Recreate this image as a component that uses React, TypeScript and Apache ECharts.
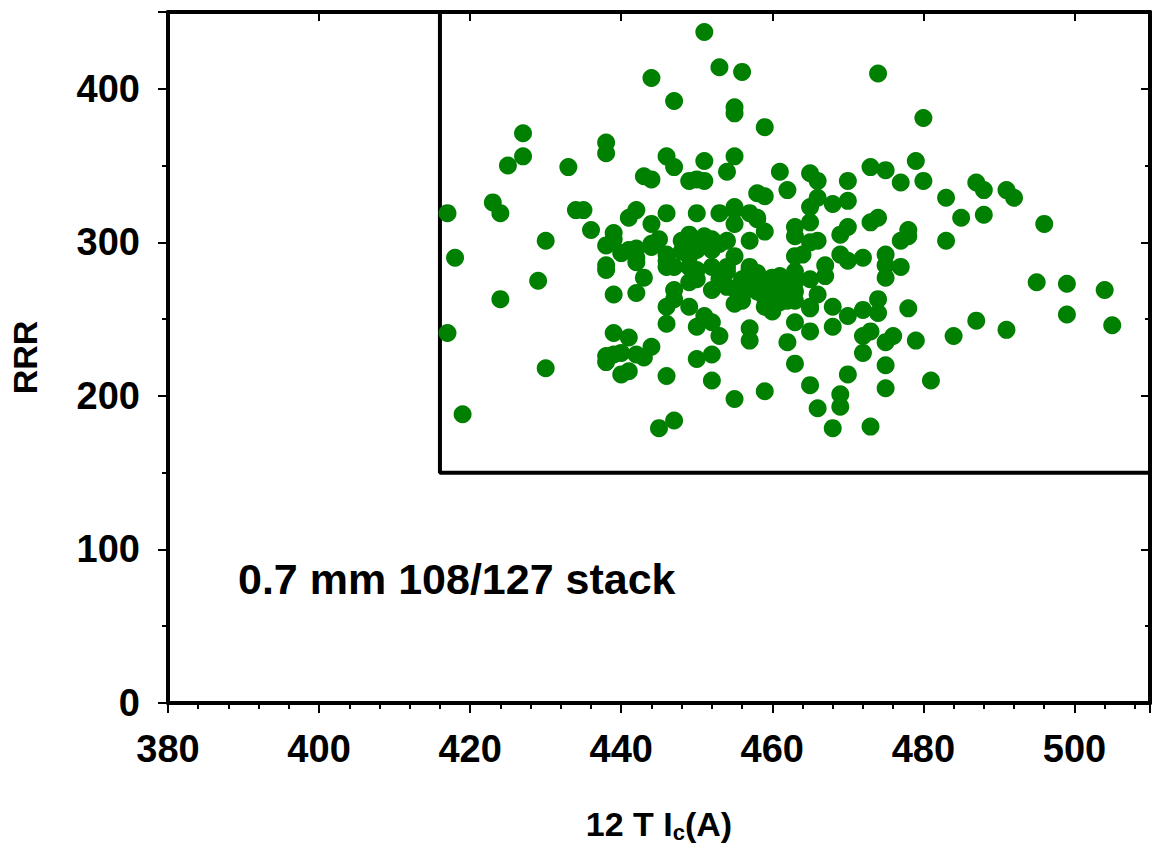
import React, { useEffect, useRef } from "react";
import * as echarts from "echarts";

// 12 T critical current Ic (A) of each sample
const icValues = [
  417, 418, 417, 419, 423, 424, 424, 425, 427, 427,
  430, 429, 430, 433, 434, 436, 438, 438, 439, 441,
  442, 444, 446, 450, 453, 455, 455, 457, 458, 459,
  463, 463, 438, 439, 440, 442, 442, 438, 443, 439,
  442, 444, 445, 446, 446, 448, 449, 450, 451, 452,
  453, 454, 455, 457, 449, 450, 452, 452, 453, 454,
  454, 457, 447, 446, 447, 449, 450, 451, 452, 446,
  439, 441, 453, 438, 438, 439, 440, 442, 443, 444,
  440, 441, 446, 450, 452, 452, 455, 459, 445, 447,
  458, 459, 460, 461, 459, 460, 461, 462, 463, 463,
  455, 456, 457, 457, 462, 463, 463, 463, 463, 451,
  453, 456, 444, 447, 455, 455, 459, 446, 447, 451,
  455, 443, 444, 449, 451, 454, 461, 458, 459, 462,
  474, 480, 473, 475, 479, 477, 480, 465, 466, 470,
  465, 466, 468, 470, 483, 487, 488, 491, 492, 485,
  488, 496, 465, 466, 469, 470, 473, 474, 477, 478,
  478, 483, 464, 467, 467, 469, 470, 472, 475, 475,
  475, 477, 465, 466, 461, 465, 468, 468, 470, 472,
  474, 474, 478, 465, 472, 473, 472, 475, 476, 479,
  484, 487, 491, 495, 499, 499, 504, 505, 465, 470,
  469, 469, 466, 475, 475, 481, 468, 473, 451, 452,
  454, 450, 457, 458, 449, 449, 446, 447, 438, 448,
  444, 441, 442, 435, 449, 455, 465, 465, 458, 450,
  456, 458, 460, 462, 461, 457, 459, 463, 460, 455,
];

// RRR of each sample (same order)
const rrrValues = [
  319, 290, 241, 188, 326, 319, 263, 350, 356, 371,
  301, 275, 218, 349, 321, 308, 365, 358, 306, 316,
  321, 312, 319, 319, 319, 321, 312, 319, 315, 307,
  310, 304, 298, 302, 293, 296, 287, 285, 277, 266,
  267, 299, 302, 292, 288, 301, 305, 295, 299, 302,
  299, 301, 291, 301, 284, 276, 284, 269, 276, 281,
  271, 282, 269, 258, 263, 258, 245, 252, 248, 247,
  241, 238, 239, 226, 222, 227, 228, 227, 225, 232,
  214, 216, 213, 224, 227, 210, 198, 203, 179, 184,
  274, 271, 267, 265, 258, 255, 261, 262, 268, 274,
  260, 262, 244, 236, 235, 221, 291, 281, 248, 437,
  414, 411, 407, 392, 388, 384, 375, 356, 349, 353,
  356, 343, 341, 340, 340, 346, 346, 332, 330, 334,
  410, 381, 349, 347, 353, 339, 340, 345, 340, 340,
  323, 329, 325, 327, 329, 339, 334, 334, 329, 316,
  318, 312, 313, 301, 305, 310, 313, 316, 301, 308,
  304, 301, 292, 285, 278, 292, 288, 290, 292, 285,
  277, 284, 276, 266, 269, 257, 258, 245, 252, 256,
  263, 254, 257, 242, 239, 242, 228, 235, 239, 236,
  239, 249, 243, 274, 273, 253, 269, 246, 207, 214,
  201, 193, 192, 220, 205, 210, 179, 180, 304, 295,
  284, 282, 284, 280, 291, 274, 284, 284, 282, 294,
  297, 295, 290, 321, 301, 323, 300, 258, 316, 341,
  276, 268, 272, 270, 278, 270, 264, 262, 277, 270,
];

// Specification box corner (Ic >= 416 A, RRR >= 150)
const boxIc = [416, 416, 510];
const boxRrr = [450, 150, 150];

const xTickLabels = [380, 400, 420, 440, 460, 480, 500];
const yTickLabels = [0, 100, 200, 300, 400];

const X_MIN = 380;
const X_MAX = 510;
const Y_MIN = 0;
const Y_MAX = 450;

const stackLabel = "0.7 mm 108/127 stack";

const mainFont = "'Liberation Sans', Arial, Helvetica, sans-serif";

export default function App() {
  const ref = useRef<HTMLDivElement>(null);

  useEffect(() => {
    if (!ref.current) return;
    const chart = echarts.init(ref.current, null, { renderer: "svg" });

    const points = icValues.map((v, i) => [v, rrrValues[i]]);
    const box = boxIc.map((v, i) => [v, boxRrr[i]]);

    const lineStyle = { color: "#000", width: 4 };
    const hidden = { show: false };

    const xBase = { type: "value", min: X_MIN, max: X_MAX, gridIndex: 0, splitLine: hidden };
    const yBase = { type: "value", min: Y_MIN, max: Y_MAX, gridIndex: 0, splitLine: hidden };

    const option: any = {
      animation: false,
      backgroundColor: "#fff",
      grid: { left: 167, right: 3, top: 12, bottom: 147, containLabel: false },
      xAxis: [
        {
          ...xBase,
          position: "bottom",
          interval: 20,
          axisLine: { show: true, onZero: false, lineStyle },
          axisTick: { show: true, inside: false, length: 10, lineStyle: { color: "#000", width: 2 } },
          axisLabel: {
            show: true,
            margin: 27,
            color: "#000",
            fontFamily: mainFont,
            fontWeight: "bold",
            fontSize: 38,
            formatter: (v: number) => (xTickLabels.includes(v) ? String(v) : ""),
          },
          name: "{a|12 T I}{s|c}{a|(A)}",
          nameLocation: "middle",
          nameGap: 102,
          nameTextStyle: {
            rich: {
              a: { fontFamily: mainFont, fontWeight: "bold", fontSize: 34, color: "#000" },
              s: { fontFamily: mainFont, fontWeight: "bold", fontSize: 22, color: "#000", padding: [16, 0, 0, 0] },
            },
          },
        },
        {
          ...xBase,
          position: "bottom",
          interval: 4,
          axisLine: hidden,
          axisTick: { show: true, inside: false, length: 6, lineStyle: { color: "#000", width: 2 } },
          axisLabel: hidden,
        },
        {
          ...xBase,
          position: "top",
          interval: 20,
          axisLine: { show: true, onZero: false, lineStyle },
          axisTick: { show: true, inside: true, length: 9, lineStyle: { color: "#000", width: 2 } },
          axisLabel: hidden,
        },
        {
          ...xBase,
          position: "top",
          interval: 4,
          axisLine: hidden,
          axisTick: { show: true, inside: true, length: 5, lineStyle: { color: "#000", width: 2 } },
          axisLabel: hidden,
        },
      ],
      yAxis: [
        {
          ...yBase,
          position: "left",
          interval: 100,
          axisLine: { show: true, onZero: false, lineStyle },
          axisTick: { show: true, inside: false, length: 10, lineStyle: { color: "#000", width: 2 } },
          axisLabel: {
            show: true,
            margin: 28,
            color: "#000",
            fontFamily: mainFont,
            fontWeight: "bold",
            fontSize: 38,
            formatter: (v: number) => (yTickLabels.includes(v) ? String(v) : ""),
          },
          name: "RRR",
          nameLocation: "middle",
          nameGap: 126,
          nameRotate: 90,
          nameTextStyle: { fontFamily: mainFont, fontWeight: "bold", fontSize: 34, color: "#000" },
        },
        {
          ...yBase,
          position: "left",
          interval: 50,
          axisLine: hidden,
          axisTick: { show: true, inside: false, length: 6, lineStyle: { color: "#000", width: 2 } },
          axisLabel: hidden,
        },
        {
          ...yBase,
          position: "right",
          interval: 100,
          axisLine: { show: true, onZero: false, lineStyle },
          axisTick: { show: true, inside: true, length: 9, lineStyle: { color: "#000", width: 2 } },
          axisLabel: hidden,
        },
        {
          ...yBase,
          position: "right",
          interval: 50,
          axisLine: hidden,
          axisTick: { show: true, inside: true, length: 5, lineStyle: { color: "#000", width: 2 } },
          axisLabel: hidden,
        },
      ],
      series: [
        {
          name: "box",
          type: "line",
          xAxisIndex: 0,
          yAxisIndex: 0,
          data: box,
          symbol: "none",
          lineStyle: { color: "#000", width: 4 },
          silent: true,
          z: 1,
        },
        {
          name: "samples",
          type: "scatter",
          xAxisIndex: 0,
          yAxisIndex: 0,
          data: points,
          symbol: "circle",
          symbolSize: 18,
          itemStyle: { color: "#008000", opacity: 1 },
          z: 2,
        },
      ],
      graphic: [
        {
          type: "text",
          left: 238,
          top: 557,
          style: {
            text: stackLabel,
            fill: "#000",
            font: `bold 43px ${mainFont}`,
          },
        },
      ],
    };

    chart.setOption(option);
    return () => chart.dispose();
  }, []);

  return (
    <div
      ref={ref}
      style={{ position: "absolute", left: 0, top: 0, width: 1153, height: 850, background: "#fff" }}
    />
  );
}
